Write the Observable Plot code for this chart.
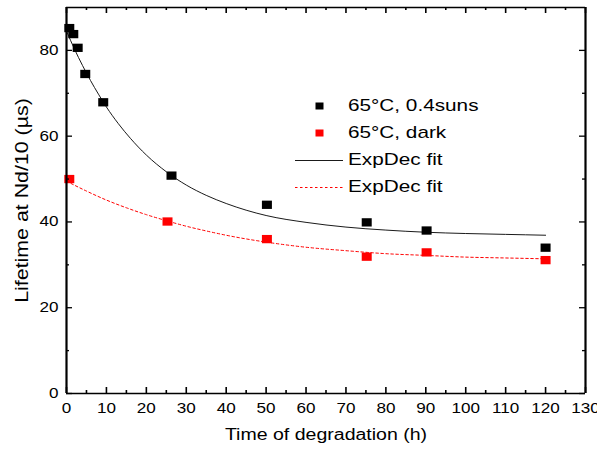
<!DOCTYPE html>
<html>
<head>
<meta charset="utf-8">
<script src="https://cdn.jsdelivr.net/npm/d3@7"></script>
<script src="https://cdn.jsdelivr.net/npm/@observablehq/plot@0.6"></script>
<style>
  body { margin: 0; background: #fff; }
  #wrap { position: relative; width: 597px; height: 450px; font-family: "Liberation Sans", Arial, sans-serif; }
  .row { position: absolute; left: 290px; height: 20px; width: 260px; }
  .row svg { position: absolute; left: 0; top: 0; }
  .row span { position: absolute; left: 58px; top: 0; line-height: 20px; font-size: 17px; color: #000; white-space: nowrap; transform: scaleX(1.22); transform-origin: 0 50%; }
</style>
</head>
<body>
<div id="wrap"></div>
<script>
// ---- data ----
const sunTime  = [0.7, 1.7, 2.8, 4.7, 9.2, 26.3, 50.2, 75.2, 90.2, 120];
const sunLife  = [85.2, 83.8, 80.6, 74.5, 67.9, 50.8, 44.0, 39.9, 38.0, 34.0];
const darkTime = [0.7, 25.3, 50.2, 75.2, 90.2, 120];
const darkLife = [50.0, 40.1, 36.0, 31.9, 32.9, 31.1];
// fitted curves
const fitSunTime  = [0, 2, 4, 6, 8, 10, 13, 16, 20, 25, 30, 35, 40, 50, 60, 70, 80, 90, 100, 110, 120];
const fitSunLife  = [84.5, 80.3, 76.5, 73.0, 69.8, 66.8, 62.9, 59.5, 55.6, 51.7, 48.6, 46.2, 44.3, 41.5, 39.9, 38.8, 38.1, 37.6, 37.3, 37.1, 36.9];
const fitDarkTime = [0, 5, 10, 15, 20, 25, 30, 35, 40, 50, 60, 70, 80, 90, 100, 110, 120];
const fitDarkLife = [49.5, 47.2, 45.1, 43.3, 41.7, 40.3, 39.0, 37.9, 36.9, 35.3, 34.1, 33.3, 32.6, 32.2, 31.8, 31.6, 31.4];
// axes
const xTicks = [0, 10, 20, 30, 40, 50, 60, 70, 80, 90, 100, 110, 120, 130];
const xMinor = [5, 15, 25, 35, 45, 55, 65, 75, 85, 95, 105, 115, 125];
const yTicks = [0, 20, 40, 60, 80];
const yMinor = [10, 30, 50, 70];
const xDomain = [0, 130];
const yDomain = [0, 90];
const xTitle = "Time of degradation (h)";
const yTitle = "Lifetime at Nd/10 (µs)";
const legendLabels = ["65°C, 0.4suns", "65°C, dark", "ExpDec fit", "ExpDec fit"];

const zip = (t, v) => t.map((d, i) => ({t: d, v: v[i]}));
const sun = zip(sunTime, sunLife);
const dark = zip(darkTime, darkLife);
const fitSun = zip(fitSunTime, fitSunLife);
const fitDark = zip(fitDarkTime, fitDarkLife);

const W = 597, H = 450, ML = 66, MR = 12, MT = 7, MB = 57;
const FW = W - ML - MR, FH = H - MT - MB;
const SX = 1.22; // horizontal glyph stretch seen in the reference
const wideSquare = {
  draw(context, size) {
    const r = Math.sqrt(size / Math.PI);
    const w = r, h = r * 0.83;
    context.rect(-w, -h, 2 * w, 2 * h);
  }
};

const chart = Plot.plot({
  width: W,
  height: H,
  marginLeft: ML,
  marginRight: MR,
  marginTop: MT,
  marginBottom: MB,
  style: {fontFamily: "Liberation Sans, Arial, sans-serif", fontSize: "14px", color: "#000", background: "#fff"},
  x: {domain: xDomain, label: null},
  y: {domain: yDomain, label: null},
  marks: [
    Plot.line(fitDark, {x: "t", y: "v", stroke: "#ff0000", strokeWidth: 1, strokeDasharray: "2.5,2.5", curve: "monotone-x"}),
    Plot.line(fitSun, {x: "t", y: "v", stroke: "#1a1a1a", strokeWidth: 1, curve: "monotone-x"}),
    Plot.dot(sun, {x: "t", y: "v", symbol: wideSquare, r: 5, fill: "#000", stroke: "none"}),
    Plot.dot(dark, {x: "t", y: "v", symbol: wideSquare, r: 5, fill: "#ff0000", stroke: "none"}),
    // tick labels
    Plot.axisX(xTicks, {anchor: "bottom", tickSize: 0, tickPadding: 10, label: null}),
    Plot.axisY(yTicks, {anchor: "left", tickSize: 0, tickPadding: 8, label: null}),
    // inward ticks (bottom, top, left, right)
    Plot.ruleX(xTicks, {x: d => d, insetTop: FH - 6, stroke: "#000", strokeWidth: 1.6}),
    Plot.ruleX(xMinor, {x: d => d, insetTop: FH - 3, stroke: "#000", strokeWidth: 1.6}),
    Plot.ruleX(xTicks, {x: d => d, insetBottom: FH - 6, stroke: "#000", strokeWidth: 1.6}),
    Plot.ruleX(xMinor, {x: d => d, insetBottom: FH - 3, stroke: "#000", strokeWidth: 1.6}),
    Plot.ruleY(yTicks, {y: d => d, insetRight: FW - 6, stroke: "#000", strokeWidth: 1.3}),
    Plot.ruleY(yMinor, {y: d => d, insetRight: FW - 3, stroke: "#000", strokeWidth: 1.3}),
    Plot.ruleY(yTicks, {y: d => d, insetLeft: FW - 6, stroke: "#000", strokeWidth: 1.3}),
    Plot.ruleY(yMinor, {y: d => d, insetLeft: FW - 3, stroke: "#000", strokeWidth: 1.3}),
    // frame
    Plot.ruleY(yDomain, {stroke: "#000", strokeWidth: 1.6}),
    Plot.ruleX(xDomain, {stroke: "#000", strokeWidth: 2.2}),
    // axis titles
    Plot.text([xTitle], {frameAnchor: "bottom", dy: 46, text: d => d, fontSize: 16, fill: "#000", textAnchor: "middle"}),
    Plot.text([yTitle], {frameAnchor: "left", dx: -44, rotate: -90, text: d => d, fontSize: 17.5, fill: "#000", textAnchor: "middle"})
  ]
});

const wrap = document.getElementById("wrap");
wrap.appendChild(chart);

// stretch every glyph along its writing direction (the reference's font is wide)
chart.querySelectorAll("text").forEach(t => {
  const len = t.getComputedTextLength();
  if (len > 0) {
    t.setAttribute("textLength", (len * SX).toFixed(2));
    t.setAttribute("lengthAdjust", "spacingAndGlyphs");
  }
});

// legend (inside plot area)
const rows = [
  {top: 96, kind: "square", color: "#000"},
  {top: 123, kind: "square", color: "#ff0000"},
  {top: 150, kind: "line", color: "#1a1a1a", dash: null},
  {top: 177, kind: "line", color: "#ff0000", dash: "2.5,2.5"}
];
rows.forEach((r, i) => {
  const div = document.createElement("div");
  div.className = "row";
  div.style.top = r.top + "px";
  const swatch = r.kind === "square"
    ? `<svg width="56" height="20"><rect x="25.5" y="6.5" width="8" height="7" fill="${r.color}"/></svg>`
    : `<svg width="56" height="20"><line x1="5" x2="53" y1="10.5" y2="10.5" stroke="${r.color}" stroke-width="1" ${r.dash ? `stroke-dasharray="${r.dash}"` : ""}/></svg>`;
  div.innerHTML = swatch + `<span>${legendLabels[i]}</span>`;
  wrap.appendChild(div);
});
</script>
</body>
</html>
